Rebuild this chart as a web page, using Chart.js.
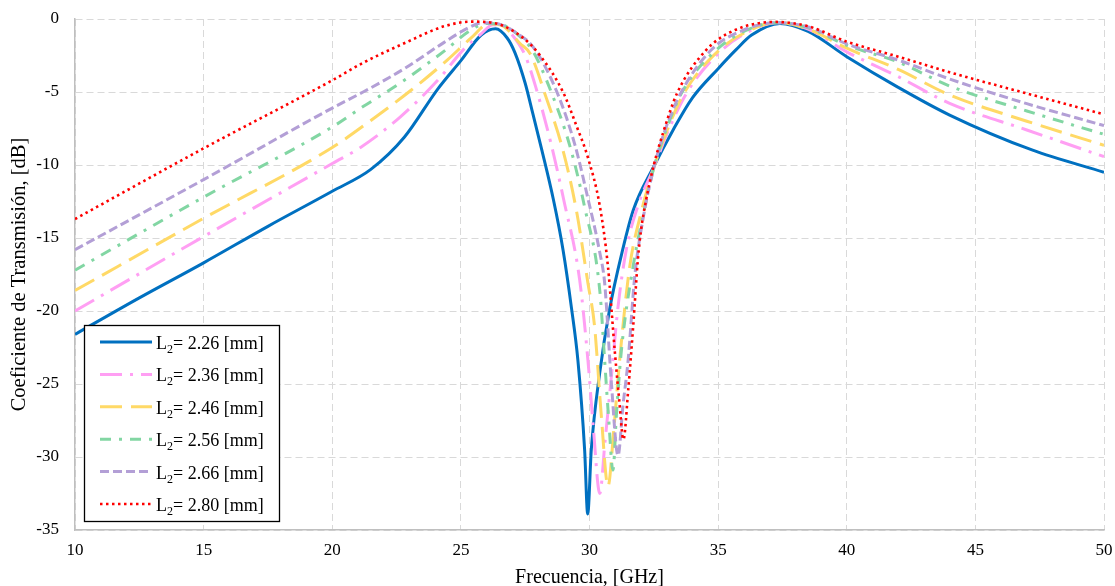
<!DOCTYPE html>
<html>
<head>
<meta charset="utf-8">
<script src="https://cdn.jsdelivr.net/npm/chart.js@4.4.1/dist/chart.umd.min.js"></script>
<style>
  html, body { margin: 0; padding: 0; background: #fff; }
  #wrap { width: 1115px; height: 586px; position: relative; }
</style>
</head>
<body>
<div id="wrap"><canvas id="myChart"></canvas></div>
<script>
// L2 values shown in the legend
const lengths = ['2.26', '2.36', '2.46', '2.56', '2.66', '2.80']

// frequency [GHz] / transmission [dB]
const f226 = [10, 12.5, 15, 17.5, 20, 21.5, 22.8, 24.1, 25, 25.8, 26.35, 26.8, 27.1, 27.5, 27.8, 28.15, 28.6, 28.97, 29.3, 29.55, 29.81, 29.93, 30.07, 30.4, 30.78, 31.29, 31.7, 32.5, 33.25, 34.0, 35.0, 35.7, 36.3, 37.4, 38.5, 40, 42, 44, 47.2, 50]
const db226 = [-21.6, -19.1, -16.7, -14.2, -11.8, -10.3, -8.1, -4.8, -2.85, -1.08, -0.67, -1.3, -2.3, -4.4, -6.5, -9.0, -12.4, -15.8, -19.8, -23.4, -29.5, -33.9, -29.5, -24.2, -19.9, -15.8, -13.1, -10.1, -7.6, -5.4, -3.4, -2.1, -1.1, -0.3, -0.85, -2.58, -4.68, -6.58, -8.97, -10.5]

const f236 = [10, 15, 20, 21.1, 22.65, 24.1, 25.1, 25.8, 26.25, 26.6, 27.0, 27.5, 27.9, 28.5, 29.0, 29.62, 29.94, 30.15, 30.4, 30.6, 30.85, 31.11, 31.43, 31.9, 32.5, 33.0, 33.8, 35.15, 36.2, 37.3, 38.5, 40, 42, 44, 47, 50]
const db236 = [-20.0, -14.9, -9.9, -8.8, -6.7, -4.2, -2.1, -1.0, -0.4, -0.45, -1.1, -2.5, -4.6, -8.5, -12.4, -17.9, -23.4, -28.0, -32.5, -29.0, -24.5, -19.7, -15.8, -12.7, -10.2, -7.9, -5.0, -2.12, -0.85, -0.25, -0.7, -2.25, -3.95, -5.78, -7.6, -9.43]

const f246 = [10, 15, 20, 21.5, 23.05, 24.48, 25.4, 26.1, 26.6, 27.3, 27.7, 28.3, 28.97, 29.5, 29.94, 30.2, 30.46, 30.72, 30.95, 31.17, 31.56, 32.0, 32.5, 33.0, 33.7, 35.05, 36.2, 37.3, 38.5, 40, 42, 44, 47, 50]
const db246 = [-18.6, -13.65, -8.8, -6.95, -4.9, -2.8, -1.3, -0.32, -0.45, -1.68, -2.4, -5.3, -9.0, -13.2, -18.1, -21.1, -27.2, -32.0, -28.0, -23.4, -17.0, -13.3, -10.2, -7.7, -5.0, -2.12, -0.8, -0.25, -0.7, -2.0, -3.45, -5.2, -7.0, -8.65]

const f256 = [10, 15, 20, 21.2, 22.8, 24.35, 25.4, 26.0, 26.6, 27.3, 27.8, 28.5, 29.27, 29.8, 30.4, 30.59, 30.75, 30.91, 31.05, 31.24, 31.69, 32.1, 32.5, 33.0, 33.6, 34.93, 36.2, 37.3, 38.5, 40, 42, 44, 47, 50]
const db256 = [-17.2, -12.2, -7.4, -6.0, -4.2, -2.2, -0.74, -0.3, -0.4, -1.2, -2.2, -4.95, -8.9, -12.8, -18.6, -23.4, -27.5, -30.9, -27.0, -22.7, -17.0, -13.3, -10.2, -7.5, -5.0, -2.12, -0.7, -0.25, -0.6, -1.8, -2.95, -4.59, -6.3, -7.9]

const f266 = [10, 15, 20, 21.2, 22.8, 24.35, 25.3, 25.85, 26.5, 27.2, 27.8, 28.71, 29.43, 29.9, 30.4, 30.59, 30.85, 31.11, 31.3, 31.5, 31.76, 32.1, 32.5, 33.0, 33.57, 34.73, 36.0, 37.3, 38.5, 40, 42, 44, 47, 50]
const db266 = [-15.8, -11.0, -6.1, -5.0, -3.4, -1.6, -0.6, -0.25, -0.35, -1.0, -1.9, -4.9, -8.6, -12.0, -16.0, -18.1, -24.9, -29.9, -26.5, -23.4, -17.6, -13.5, -10.2, -7.3, -5.0, -2.12, -0.75, -0.25, -0.55, -1.7, -2.81, -4.11, -5.8, -7.3]

const f280 = [10, 15, 20, 21.2, 22.8, 24.35, 25.4, 26.3, 27.35, 28.06, 28.97, 29.49, 29.94, 30.4, 30.72, 30.98, 31.15, 31.32, 31.5, 31.7, 31.88, 32.0, 32.2, 32.5, 32.86, 33.4, 34.54, 35.6, 37.2, 38.5, 40, 42, 44, 47, 50]
const db280 = [-13.7, -8.86, -4.2, -3.0, -1.66, -0.5, -0.18, -0.28, -1.2, -2.46, -5.0, -7.3, -9.5, -12.8, -17.0, -22.7, -26.0, -28.8, -25.5, -21.0, -16.5, -14.5, -12.4, -10.0, -7.8, -5.1, -2.12, -0.8, -0.2, -0.5, -1.55, -2.58, -3.65, -5.1, -6.53]

const freqs = [f226, f236, f246, f256, f266, f280]
const dbs = [db226, db236, db246, db256, db266, db280]

const colors = ['#0070c0', '#ff9ff3', '#ffd966', '#82d6a3', '#b39fd6', '#ff0000']
const dashes = [[], [22, 8, 3, 8], [22, 9], [11, 8, 3, 8], [9, 4], [2.5, 3.5]]
const widths = [3, 3, 3, 3, 3, 2.6]

const serif = '"Liberation Serif", "Times New Roman", serif'

const points = (fs, ys) => fs.map((f, i) => ({ x: f, y: ys[i] }))

const datasets = lengths.map((l, i) => ({
  label: 'L2= ' + l + ' [mm]',
  data: points(freqs[i], dbs[i]),
  borderColor: colors[i],
  backgroundColor: colors[i],
  borderWidth: widths[i],
  borderDash: dashes[i],
  pointRadius: 0,
  cubicInterpolationMode: 'monotone',
  fill: false,
  order: 6 - i
}))

// legend drawn inside the plot, with a subscript on L2
const legendBox = {
  id: 'legendBox',
  afterDatasetsDraw(chart) {
    const ctx = chart.ctx
    const area = chart.chartArea
    const w = 195, h = 196
    const x0 = area.left + 9
    const y0 = area.bottom - 9 - h
    ctx.save()
    ctx.fillStyle = '#ffffff'
    ctx.fillRect(x0, y0, w, h)
    ctx.strokeStyle = '#000000'
    ctx.lineWidth = 1.3
    ctx.setLineDash([])
    ctx.strokeRect(x0 + 0.5, y0 + 0.5, w, h)
    chart.data.datasets.forEach((ds, i) => {
      const cy = y0 + 17 + i * 32.4
      ctx.beginPath()
      ctx.setLineDash(ds.borderDash)
      ctx.strokeStyle = ds.borderColor
      ctx.lineWidth = ds.borderWidth
      ctx.moveTo(x0 + 16, cy)
      ctx.lineTo(x0 + 68, cy)
      ctx.stroke()
      ctx.setLineDash([])
      ctx.fillStyle = '#000000'
      ctx.textBaseline = 'alphabetic'
      ctx.textAlign = 'left'
      let tx = x0 + 72
      ctx.font = '18px ' + serif
      ctx.fillText('L', tx, cy + 7)
      tx += ctx.measureText('L').width
      ctx.font = '12px ' + serif
      ctx.fillText('2', tx, cy + 11)
      tx += ctx.measureText('2').width
      ctx.font = '18px ' + serif
      ctx.fillText('= ' + lengths[i] + ' [mm]', tx, cy + 7)
    })
    ctx.restore()
  }
}

Chart.defaults.font.family = serif
Chart.defaults.color = '#000000'

const ctx = document.getElementById('myChart')
const myChart = new Chart(ctx, {
  type: 'line',
  data: { datasets: datasets },
  options: {
    responsive: true,
    maintainAspectRatio: false,
    animation: false,
    layout: { padding: { top: 19, right: 11, left: 0, bottom: 0 } },
    plugins: {
      legend: { display: false },
      tooltip: { enabled: false }
    },
    scales: {
      x: {
        type: 'linear',
        min: 10,
        max: 50,
        ticks: { stepSize: 5, padding: 10, font: { size: 17 }, color: '#000' },
        grid: { color: '#d9d9d9', lineWidth: 1, drawTicks: false },
        border: { display: true, color: '#bfbfbf', width: 1.5, dash: [7, 4] },
        title: {
          display: true,
          text: 'Frecuencia, [GHz]',
          font: { size: 20, lineHeight: 1 },
          padding: { top: 0, bottom: -2 },
          color: '#000'
        },
        afterFit(scale) {
          scale.height = 56
          scale.paddingLeft = 0
          scale.paddingRight = 0
        }
      },
      y: {
        min: -35,
        max: 0,
        ticks: { stepSize: 5, padding: 16, font: { size: 17 }, color: '#000' },
        grid: { color: '#d9d9d9', lineWidth: 1, drawTicks: false },
        border: { display: true, color: '#bfbfbf', width: 1.5, dash: [7, 4] },
        title: {
          display: true,
          text: 'Coeficiente de Transmisión, [dB]',
          font: { size: 20.5, lineHeight: 1 },
          padding: { top: 9, bottom: 0 },
          color: '#000'
        },
        afterFit(scale) {
          scale.width = 75
          scale.paddingTop = 0
          scale.paddingBottom = 0
        }
      }
    }
  },
  plugins: [legendBox]
})
</script>
</body>
</html>
